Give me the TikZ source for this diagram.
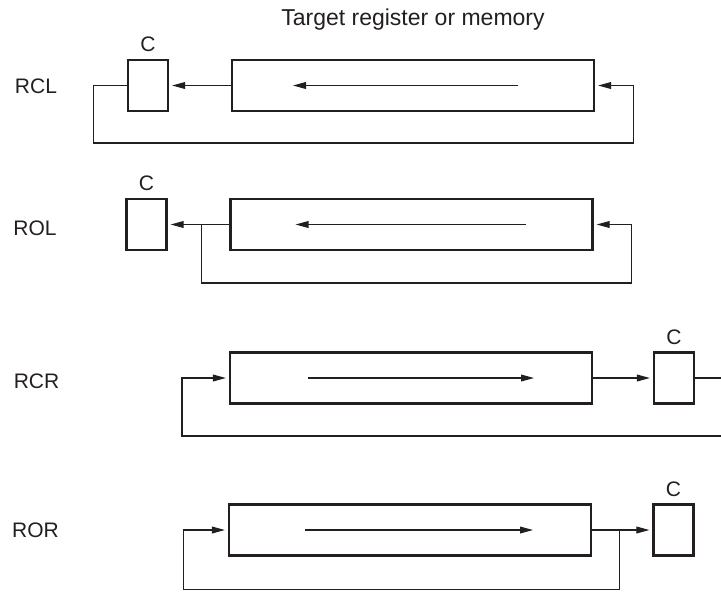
\documentclass[tikz,border=0pt]{standalone}
\usepackage{fontspec}
\setmainfont{Liberation Sans}
\definecolor{InkGray}{RGB}{35,31,32}
\usepackage{tikz}
\usetikzlibrary{positioning, arrows.meta}
\tikzset{
  regbox/.style={draw=InkGray, line width=1.1pt, minimum width=181pt, minimum height=25.5pt, inner sep=0pt},
  carrybox/.style={draw=InkGray, line width=1.1pt, minimum width=20pt, minimum height=25.5pt, inner sep=0pt},
  wire/.style={draw=InkGray, line width=0.55pt},
  feed/.style={wire, -{Triangle[length=6.5pt,width=3.4pt]}, shorten >=1.5pt},
  flow/.style={wire, -{Triangle[length=6.5pt,width=3.4pt]}}
}

\begin{document}
\begin{tikzpicture}[x=0.5pt,y=-0.5pt,font=\fontsize{10.5}{12}\selectfont,text=InkGray]
          \useasboundingbox (0,0) rectangle (721,591);

          % RCL
          \node[regbox] (rclreg) at (413,85.5) {};
          \node[carrybox] (rclc) at (148,85.5) {};
          \node[above=0pt of rclc] (rclclab) {C};
          \node (rcllab) at (36,86) {RCL};
          \node[font=\fontsize{11.5}{13}\selectfont, above=11pt of rclreg] (title) {Target register or memory};
          \draw[flow] ([xshift=52.5pt]rclreg.center) -- ([xshift=-60pt]rclreg.center);
          \draw[feed] (rclreg.west) -- (rclc.east);
          \draw[feed] (rclc.west) -- ++(-33,0) |- ++(540,57.5) |- (rclreg.east);

          % ROL
          \node[regbox] (rolreg) at (411.5,224.5) {};
          \node[carrybox] (rolc) at (146.5,224.5) {};
          \node[above=0pt of rolc] (rolclab) {C};
          \node (rollab) at (35,228) {ROL};
          \draw[flow] ([xshift=57pt]rolreg.center) -- ([xshift=-58pt]rolreg.center);
          \draw[feed] (rolreg.west) -- (rolc.east);
          \draw[feed] ([xshift=-14pt]rolreg.west) |- ++(430,58.5) |- (rolreg.east);

          % RCR
          \node[regbox] (rcrreg) at (411,378) {};
          \node[carrybox] (rcrc) at (674,378) {};
          \node[above=0pt of rcrc] (rcrclab) {C};
          \node (rcrlab) at (36.5,381) {RCR};
          \coordinate (rcrout) at (721,378);
          \coordinate (rcrback) at (721,436);
          \draw[flow] ([xshift=-51.5pt]rcrreg.center) -- ([xshift=61.5pt]rcrreg.center);
          \draw[feed] (rcrreg.east) -- (rcrc.west);
          \draw[wire] (rcrc.east) -- (rcrout);
          \draw[feed] (rcrback) -- ++(-539,0) |- (rcrreg.west);

          % ROR
          \node[regbox] (rorreg) at (410,530) {};
          \node[carrybox] (rorc) at (673.5,530) {};
          \node[above=0pt of rorc] (rorclab) {C};
          \node (rorlab) at (35.5,530) {ROR};
          \draw[flow] ([xshift=-52.5pt]rorreg.center) -- ([xshift=61.5pt]rorreg.center);
          \draw[feed] (rorreg.east) -- (rorc.west);
          \draw[feed] ([xshift=13.5pt]rorreg.east) |- ++(-436,59.5) |- (rorreg.west);
        \end{tikzpicture}
\end{document}
